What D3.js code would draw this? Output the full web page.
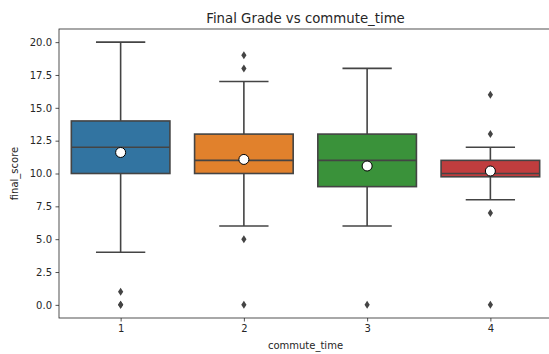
<!DOCTYPE html>
<html>
<head>
<meta charset="utf-8">
<script src="https://cdn.jsdelivr.net/npm/d3@7"></script>
<style>
body { margin: 0; background: #fff; }
text { font-family: "DejaVu Sans", sans-serif; fill: #262626; }
</style>
</head>
<body>
<svg width="549" height="354"></svg>
<script>
// data
var categories = ["1", "2", "3", "4"];
var q1 = [10, 10, 9, 9.75];
var medians = [12, 11, 11, 10];
var q3 = [14, 13, 13, 11];
var whiskLow = [4, 6, 6, 8];
var whiskHigh = [20, 17, 18, 12];
var means = [11.6, 11.07, 10.57, 10.19];
var fliers = [[1, 0, 0], [19, 18, 5, 0], [0], [16, 13, 7, 0]];
var colors = ["#3274a1", "#e1812c", "#3a923a", "#c03d3e"];
var yTicks = [0, 2.5, 5, 7.5, 10, 12.5, 15, 17.5, 20];

// plot area (window.top is reserved, so use other names)
var padL = 59, padR = 552, padT = 29, padB = 318;
var gray = "#444444";

var svg = d3.select("svg");

var x = d3.scaleBand().domain(categories).range([padL, padR]).paddingInner(0.2).paddingOuter(0.1);
var xc = d3.scalePoint().domain(categories).range([padL, padR]).padding(0.5);
var y = d3.scaleLinear().domain([-1, 21]).range([padB, padT]);

var data = categories.map(function(c, i) {
    return {c: c, q1: q1[i], med: medians[i], q3: q3[i], lo: whiskLow[i], hi: whiskHigh[i],
            mean: means[i], fl: fliers[i], col: colors[i]};
});

var g = svg.selectAll("g.box").data(data).enter().append("g").attr("class", "box");

// whiskers
g.append("line")
    .attr("x1", function(d) { return xc(d.c); }).attr("x2", function(d) { return xc(d.c); })
    .attr("y1", function(d) { return y(d.q3); }).attr("y2", function(d) { return y(d.hi); })
    .attr("stroke", gray).attr("stroke-width", 1.6);
g.append("line")
    .attr("x1", function(d) { return xc(d.c); }).attr("x2", function(d) { return xc(d.c); })
    .attr("y1", function(d) { return y(d.q1); }).attr("y2", function(d) { return y(d.lo); })
    .attr("stroke", gray).attr("stroke-width", 1.6);
// caps
var capW = x.bandwidth() / 4;
["lo", "hi"].forEach(function(k) {
    g.append("line")
        .attr("x1", function(d) { return xc(d.c) - capW; }).attr("x2", function(d) { return xc(d.c) + capW; })
        .attr("y1", function(d) { return y(d[k]); }).attr("y2", function(d) { return y(d[k]); })
        .attr("stroke", gray).attr("stroke-width", 1.6);
});

// boxes
g.append("rect")
    .attr("x", function(d) { return x(d.c); })
    .attr("width", x.bandwidth())
    .attr("y", function(d) { return y(d.q3); })
    .attr("height", function(d) { return y(d.q1) - y(d.q3); })
    .attr("fill", function(d) { return d.col; })
    .attr("stroke", gray).attr("stroke-width", 1.6);

// medians
g.append("line")
    .attr("x1", function(d) { return x(d.c); }).attr("x2", function(d) { return x(d.c) + x.bandwidth(); })
    .attr("y1", function(d) { return y(d.med); }).attr("y2", function(d) { return y(d.med); })
    .attr("stroke", gray).attr("stroke-width", 1.6);

// fliers
var diamond = "M0,-4L2.6,0L0,4L-2.6,0Z";
g.each(function(d) {
    d3.select(this).selectAll("path.flier").data(d.fl).enter().append("path")
        .attr("class", "flier")
        .attr("d", diamond)
        .attr("transform", function(v) { return "translate(" + xc(d.c) + "," + y(v) + ")"; })
        .attr("fill", gray);
});

// means
g.append("circle")
    .attr("cx", function(d) { return xc(d.c); })
    .attr("cy", function(d) { return y(d.mean); })
    .attr("r", 5)
    .attr("fill", "#fff").attr("stroke", "#000").attr("stroke-width", 1);

// axes
var yAxis = svg.append("g").attr("transform", "translate(" + padL + ",0)")
    .call(d3.axisLeft(y).tickValues(yTicks).tickFormat(d3.format(".1f")).tickSize(3.5).tickPadding(3.5));
var xAxis = svg.append("g").attr("transform", "translate(0," + padB + ")")
    .call(d3.axisBottom(xc).tickSize(3.5).tickPadding(3.5));
[xAxis, yAxis].forEach(function(a) {
    a.select(".domain").remove();
    a.selectAll("line").attr("stroke", "#262626").attr("stroke-width", 0.8);
    a.selectAll("text").attr("font-size", 10).attr("font-family", "DejaVu Sans").attr("fill", "#262626");
});

// spines
svg.append("rect").attr("x", padL).attr("y", padT).attr("width", padR - padL).attr("height", padB - padT)
    .attr("fill", "none").attr("stroke", "#262626").attr("stroke-width", 0.8);

svg.append("text").attr("x", (padL + padR) / 2).attr("y", 23).attr("text-anchor", "middle")
    .attr("font-size", 13.3).text("Final Grade vs commute_time");
svg.append("text").attr("x", (padL + padR) / 2).attr("y", 349).attr("text-anchor", "middle")
    .attr("font-size", 10).text("commute_time");
svg.append("text").attr("transform", "translate(18," + (padT + padB) / 2 + ") rotate(-90)")
    .attr("text-anchor", "middle").attr("font-size", 10).text("final_score");
</script>
</body>
</html>
